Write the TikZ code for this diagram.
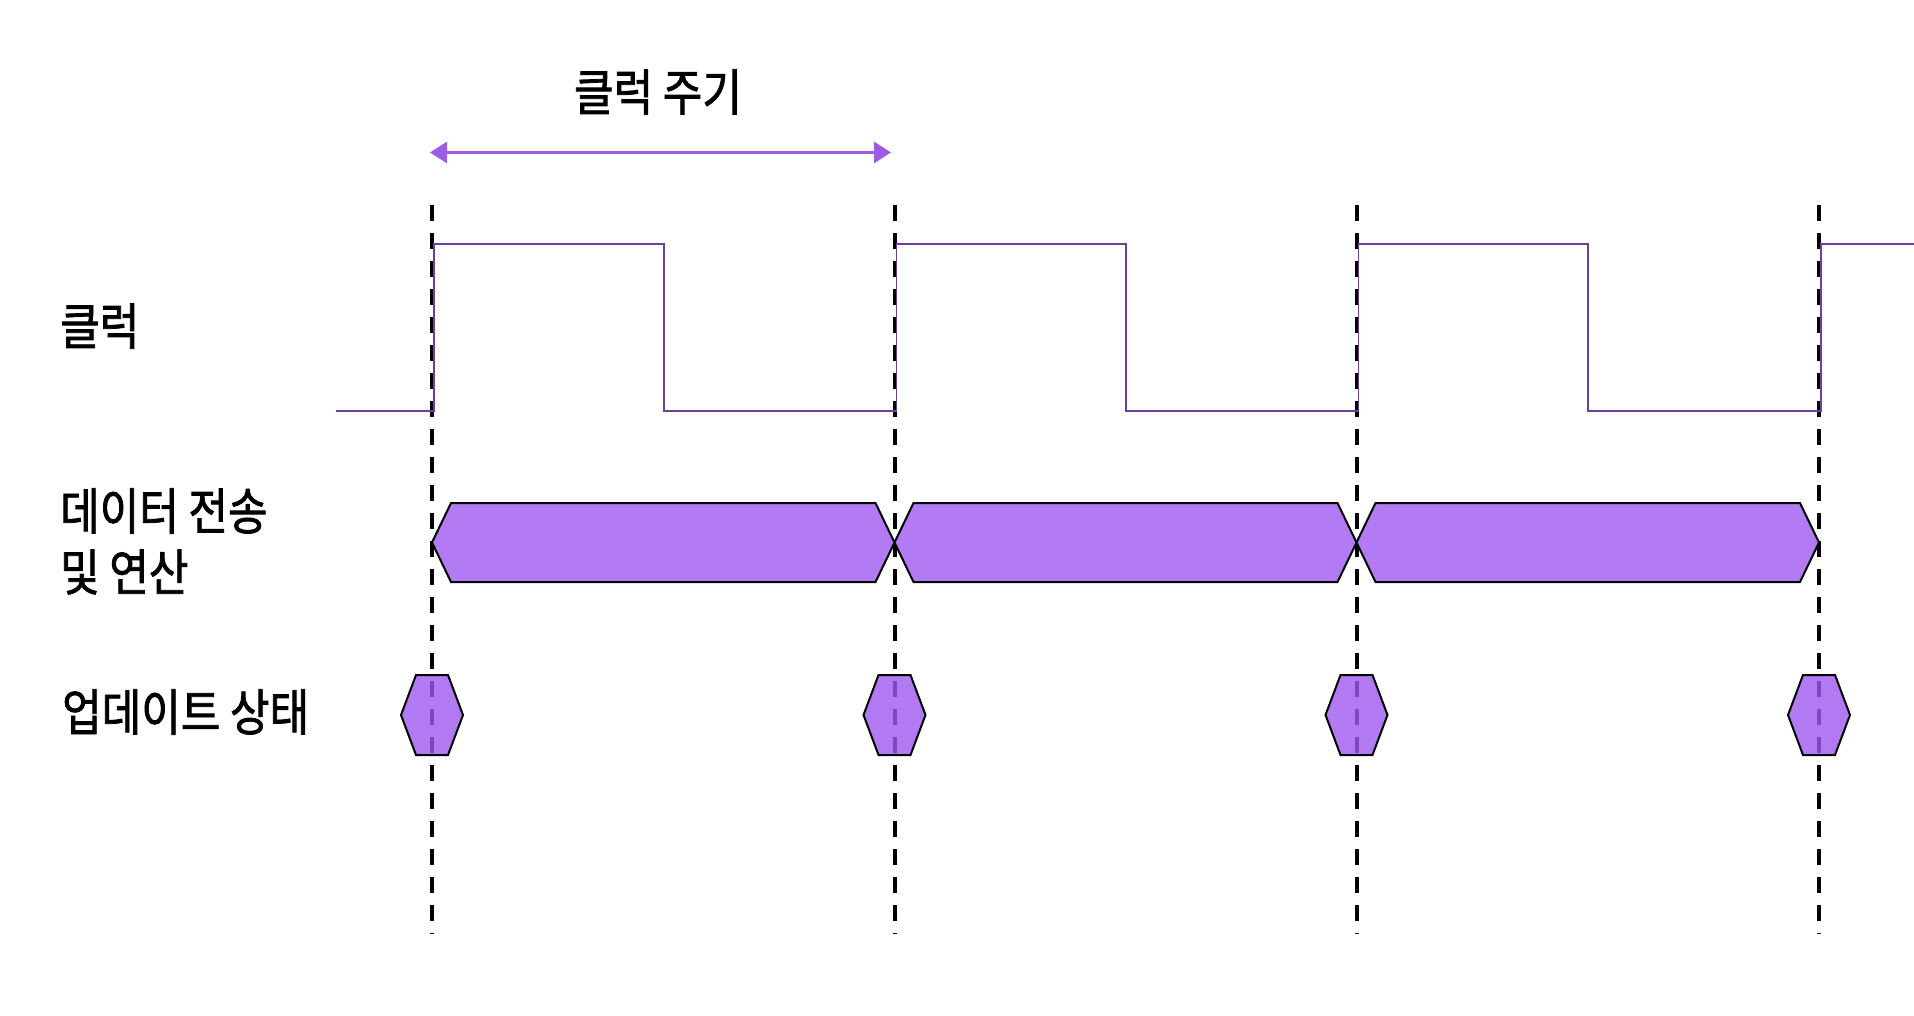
\documentclass[tikz,border=0pt]{standalone}
\usepackage{fontspec}
\newfontfamily\kr[FakeStretch=0.86, FakeBold=1.5]{Noto Sans CJK KR}
\usetikzlibrary{arrows.meta}
\definecolor{clk}{HTML}{6B3FA0}
\definecolor{arr}{HTML}{9D5CE6}
\definecolor{busfill}{HTML}{B27AF3}
\definecolor{hexfill}{HTML}{9F59EF}
\begin{document}
\begin{tikzpicture}[x=1pt,y=-1pt,
  lbl/.style={font=\kr\fontsize{50}{60}\selectfont, anchor=west, inner sep=0pt},
  ttl/.style={font=\kr\fontsize{50}{60}\selectfont, inner sep=0pt},
  gridline/.style={line width=4pt, dash pattern=on 16pt off 12pt},
  clockline/.style={clk, line width=1.8pt},
  busbox/.style={draw=black, line width=2pt, fill=busfill, line join=miter},
  updbox/.style={draw=black, line width=2pt, fill=hexfill, fill opacity=0.8, line join=miter},
  period/.style={arr, line width=3pt, {Triangle[length=17pt,width=21pt]}-{Triangle[length=17pt,width=21pt]}}]
\useasboundingbox (0,0) rectangle (1914,1016);

% dashed clock-edge markers
\foreach \x [count=\i] in {432,894.5,1356.5,1819}{
  \coordinate (gt\i) at (\x,205);
  \coordinate (gb\i) at (\x,934);
  \draw[gridline] (gt\i) -- (gb\i);
}

% clock waveform
\draw[clockline] (336,411) -- (434,411) -- (434,244) -- (664,244) -- (664,411)
  -- (896.5,411) -- (896.5,244) -- (1126,244) -- (1126,411)
  -- (1358.5,411) -- (1358.5,244) -- (1588,244) -- (1588,411)
  -- (1821,411) -- (1821,244) -- (1914,244);

% data bus
\foreach \a/\b in {432/894.5, 894.5/1356.5, 1356.5/1819}{
  \draw[busbox] (\a,542.5) -- (\a+19,503) -- (\b-19,503) -- (\b,542.5)
    -- (\b-19,582) -- (\a+19,582) -- cycle;
}

% update state
\foreach \x in {432,894.5,1356.5,1819}{
  \draw[updbox] (\x-31,715) -- (\x-16,675) -- (\x+16,675) -- (\x+31,715)
    -- (\x+16,755) -- (\x-16,755) -- cycle;
}

% clock period arrow
\coordinate (pa) at (430,152.5);
\coordinate (pb) at (891,152.5);
\draw[period] (pa) -- (pb);

% labels
\node[ttl] (title) at (658,92) {클럭 주기};
\node[lbl] (lclk) at (60,326) {클럭};
\node[lbl] (ldata1) at (60,511) {데이터 전송};
\node[lbl] (ldata2) at (60,572) {및 연산};
\node[lbl] (lupd) at (62,712) {업데이트 상태};
\end{tikzpicture}
\end{document}
